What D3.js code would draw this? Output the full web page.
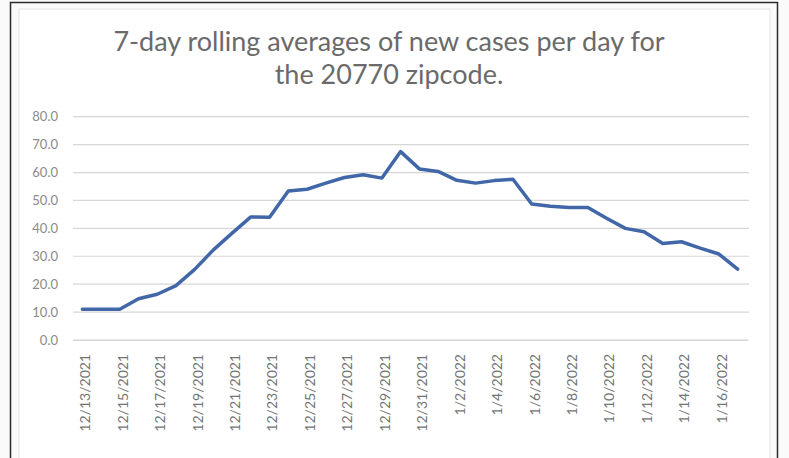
<!DOCTYPE html>
<html>
<head>
<meta charset="utf-8">
<script src="https://cdn.jsdelivr.net/npm/d3@7"></script>
<style>
  html, body { margin: 0; padding: 0; background: #ffffff; }
  svg { display: block; }
</style>
</head>
<body>
<svg id="chart" width="789" height="458"></svg>
<script>
// ---- data ----
const dates = [
  "12/13/2021","12/14/2021","12/15/2021","12/16/2021","12/17/2021","12/18/2021",
  "12/19/2021","12/20/2021","12/21/2021","12/22/2021","12/23/2021","12/24/2021",
  "12/25/2021","12/26/2021","12/27/2021","12/28/2021","12/29/2021","12/30/2021",
  "12/31/2021","1/1/2022","1/2/2022","1/3/2022","1/4/2022","1/5/2022",
  "1/6/2022","1/7/2022","1/8/2022","1/9/2022","1/10/2022","1/11/2022",
  "1/12/2022","1/13/2022","1/14/2022","1/15/2022","1/16/2022","1/17/2022"
];
const values = [
  11.0, 11.0, 11.0, 14.8, 16.4, 19.5,
  25.3, 32.3, 38.3, 44.1, 44.0, 53.4,
  54.0, 56.2, 58.2, 59.2, 58.0, 67.5,
  61.3, 60.4, 57.2, 56.2, 57.1, 57.6,
  48.7, 47.9, 47.5, 47.5, 43.6, 40.0,
  38.8, 34.6, 35.2, 32.9, 30.8, 25.4
];
const yTicks = [0, 10, 20, 30, 40, 50, 60, 70, 80];
const titleLines = ["7-day rolling averages of new cases per day for", "the 20770 zipcode."];

// ---- layout ----
const svg = d3.select("#chart");
const W = 789, H = 458;
const plot = { left: 73, right: 747, top: 116.7, bottom: 340 };

// outer frame (scanned picture border)
svg.append("rect").attr("x", 0).attr("y", 0).attr("width", W).attr("height", H).attr("fill", "#fafafa");
svg.append("rect").attr("x", 19).attr("y", 9).attr("width", 751).attr("height", 460)
  .attr("fill", "#ffffff").attr("stroke", "#e4e4e4").attr("stroke-width", 1);
svg.append("path").attr("d", `M10.5,460 V2.5 H777.5 V460`).attr("fill", "none")
  .attr("stroke", "#2b2b2b").attr("stroke-width", 1.5);

const x = d3.scaleBand().domain(dates).range([plot.left, plot.right]).padding(0);
const y = d3.scaleLinear().domain([0, 80]).range([plot.bottom, plot.top]);

// gridlines
svg.append("g").selectAll("line").data(yTicks).join("line")
  .attr("x1", plot.left).attr("x2", plot.right + 2)
  .attr("y1", d => y(d)).attr("y2", d => y(d))
  .attr("stroke", "#d6d6d6").attr("stroke-width", 1.2);

// y axis
const yAxis = svg.append("g").attr("transform", `translate(${plot.left - 15},0)`)
  .call(d3.axisLeft(y).tickValues(yTicks).tickSize(0).tickFormat(d3.format(".1f")));
yAxis.select(".domain").remove();
yAxis.selectAll("text").attr("font-family", "Lato, 'Open Sans', sans-serif")
  .attr("font-size", 13).attr("fill", "#8a8a8a").attr("x", 0);

// x axis
const xAxis = svg.append("g").attr("transform", `translate(0,${plot.bottom})`)
  .call(d3.axisBottom(x).tickValues(dates.filter((d, i) => i % 2 === 0)).tickSize(0));
xAxis.select(".domain").attr("stroke", "#d6d6d6");
xAxis.selectAll("text")
  .attr("font-family", "Lato, 'Open Sans', sans-serif")
  .attr("font-size", 14).attr("fill", "#747474")
  .attr("transform", "rotate(-90)")
  .attr("text-anchor", "end")
  .attr("x", -14).attr("y", 3).attr("dy", "0.35em");

// line
const line = d3.line().x((d, i) => x(dates[i]) + x.bandwidth() / 2).y(d => y(d));
svg.append("path").datum(values).attr("d", line)
  .attr("fill", "none").attr("stroke", "#4167a8").attr("stroke-width", 3.5)
  .attr("stroke-linejoin", "round").attr("stroke-linecap", "round");

// title
svg.append("g").selectAll("text").data(titleLines).join("text")
  .attr("x", 389).attr("y", (d, i) => 51 + i * 33)
  .attr("text-anchor", "middle")
  .attr("font-family", "Lato, 'Open Sans', sans-serif")
  .attr("font-size", 27).attr("fill", "#6a6a6a")
  .text(d => d);
</script>
</body>
</html>
